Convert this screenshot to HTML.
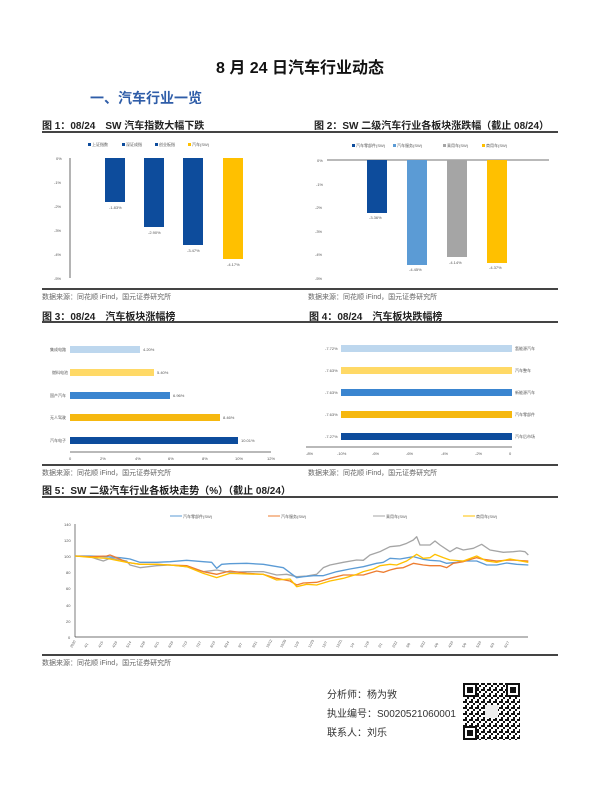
<!DOCTYPE html>
<html><head><meta charset="utf-8"><style>
body{margin:0;width:600px;height:800px;background:#fff;position:relative;font-family:"Liberation Sans","Noto Sans CJK SC",sans-serif;overflow:hidden}
.a{position:absolute;white-space:nowrap}
.h{font-size:10px;font-weight:bold;color:#222}
.src{font-size:7px;color:#666}
.ln{position:absolute;height:1.5px;background:#444}
svg{position:absolute;left:0;top:0}
</style></head><body>
<div class="a" style="left:0;width:600px;text-align:center;top:54px;font-size:16px;font-weight:bold;color:#111">8 月 24 日汽车行业动态</div>
<div class="a" style="left:90px;top:88px;font-size:14px;font-weight:bold;color:#2f5da8">一、汽车行业一览</div>

<div class="a h" style="left:42px;top:117px">图 1：08/24　SW 汽车指数大幅下跌</div>
<div class="ln" style="left:42px;top:131px;width:258px"></div>
<div class="ln" style="left:42px;top:288px;width:258px"></div>
<div class="a src" style="left:42px;top:292px">数据来源：同花顺 iFind，国元证券研究所</div>

<div class="a h" style="left:314px;top:117px">图 2：SW 二级汽车行业各板块涨跌幅（截止 08/24）</div>
<div class="ln" style="left:300px;top:131px;width:258px"></div>
<div class="ln" style="left:300px;top:288px;width:258px"></div>
<div class="a src" style="left:308px;top:292px">数据来源：同花顺 iFind，国元证券研究所</div>

<div class="a h" style="left:42px;top:308px">图 3：08/24　汽车板块涨幅榜</div>
<div class="ln" style="left:42px;top:321px;width:258px"></div>
<div class="ln" style="left:42px;top:464px;width:258px"></div>
<div class="a src" style="left:42px;top:468px">数据来源：同花顺 iFind，国元证券研究所</div>

<div class="a h" style="left:309px;top:308px">图 4：08/24　汽车板块跌幅榜</div>
<div class="ln" style="left:300px;top:321px;width:258px"></div>
<div class="ln" style="left:300px;top:464px;width:258px"></div>
<div class="a src" style="left:308px;top:468px">数据来源：同花顺 iFind，国元证券研究所</div>

<div class="a h" style="left:42px;top:482px">图 5：SW 二级汽车行业各板块走势（%）（截止 08/24）</div>
<div class="ln" style="left:42px;top:496px;width:516px"></div>
<div class="ln" style="left:42px;top:654px;width:516px"></div>
<div class="a src" style="left:42px;top:658px">数据来源：同花顺 iFind，国元证券研究所</div>

<svg width="600" height="800" font-family="Liberation Sans,Noto Sans CJK SC,sans-serif" font-size="4" fill="#555">
<!-- Fig1 -->
<g>
<rect x="88" y="143" width="3" height="3" fill="#0d4c9c"/><text x="92" y="146">上证指数</text>
<rect x="122" y="143" width="3" height="3" fill="#0d4c9c"/><text x="126" y="146">深证成指</text>
<rect x="155" y="143" width="3" height="3" fill="#0d4c9c"/><text x="159" y="146">创业板指</text>
<rect x="188" y="143" width="3" height="3" fill="#ffc000"/><text x="192" y="146">汽车(SW)</text>
<line x1="70" y1="158" x2="70" y2="278" stroke="#444" stroke-width="0.8"/>
<text x="56" y="160">0%</text><text x="54" y="184">-1%</text><text x="54" y="208">-2%</text><text x="54" y="232">-3%</text><text x="54" y="256">-4%</text><text x="54" y="280">-5%</text>
<rect x="105" y="158" width="20" height="44" fill="#0d4c9c"/>
<rect x="144" y="158" width="20" height="69" fill="#0d4c9c"/>
<rect x="183" y="158" width="20" height="87" fill="#0d4c9c"/>
<rect x="223" y="158" width="20" height="101" fill="#ffc000"/>
<text x="109" y="209">-1.83%</text><text x="148" y="234">-2.90%</text><text x="187" y="252">-3.47%</text><text x="227" y="266">-4.17%</text>
</g>
<!-- Fig2 -->
<g>
<rect x="352" y="144" width="3" height="3" fill="#0d4c9c"/><text x="356" y="147">汽车零部件(SW)</text>
<rect x="393" y="144" width="3" height="3" fill="#5b9bd5"/><text x="397" y="147">汽车服务(SW)</text>
<rect x="443" y="144" width="3" height="3" fill="#a5a5a5"/><text x="447" y="147">乘用车(SW)</text>
<rect x="482" y="144" width="3" height="3" fill="#ffc000"/><text x="486" y="147">商用车(SW)</text>
<line x1="327" y1="160" x2="549" y2="160" stroke="#444" stroke-width="0.8"/>
<text x="317" y="162">0%</text><text x="316" y="186">-1%</text><text x="315" y="209">-2%</text><text x="315" y="233">-3%</text><text x="315" y="256">-4%</text><text x="315" y="280">-5%</text>
<rect x="367" y="160" width="20" height="53" fill="#0d4c9c"/>
<rect x="407" y="160" width="20" height="105" fill="#5b9bd5"/>
<rect x="447" y="160" width="20" height="97" fill="#a5a5a5"/>
<rect x="487" y="160" width="20" height="103" fill="#ffc000"/>
<text x="369" y="219">-3.36%</text><text x="409" y="271">-4.45%</text><text x="449" y="264">-4.14%</text><text x="489" y="269">-4.37%</text>
</g>
<!-- Fig3 -->
<g>
<text x="50" y="351">集成电路</text><text x="52" y="374">燃料电池</text><text x="50" y="397">国产汽车</text><text x="50" y="419">无人驾驶</text><text x="50" y="442">汽车电子</text>
<rect x="70" y="346" width="70" height="7" fill="#bdd7ee"/>
<rect x="70" y="369" width="84" height="7" fill="#ffd966"/>
<rect x="70" y="392" width="100" height="7" fill="#3a85d0"/>
<rect x="70" y="414" width="150" height="7" fill="#f6b80f"/>
<rect x="70" y="437" width="168" height="7" fill="#0d4c9c"/>
<text x="143" y="351">4.20%</text><text x="157" y="374">5.40%</text><text x="173" y="397">6.96%</text><text x="223" y="419">8.46%</text><text x="241" y="442">10.01%</text>
<line x1="70" y1="452" x2="271" y2="452" stroke="#444" stroke-width="0.8"/>
<text x="69" y="460">0</text><text x="100" y="460">2%</text><text x="135" y="460">4%</text><text x="168" y="460">6%</text><text x="202" y="460">8%</text><text x="235" y="460">10%</text><text x="267" y="460">12%</text>
</g>
<!-- Fig4 -->
<g>
<text x="325" y="350">-7.72%</text><text x="325" y="372">-7.63%</text><text x="325" y="394">-7.63%</text><text x="325" y="416">-7.63%</text><text x="325" y="438">-7.27%</text>
<rect x="341" y="345" width="171" height="7" fill="#bdd7ee"/>
<rect x="341" y="367" width="171" height="7" fill="#ffd966"/>
<rect x="341" y="389" width="171" height="7" fill="#3a85d0"/>
<rect x="341" y="411" width="171" height="7" fill="#f6b80f"/>
<rect x="341" y="433" width="171" height="7" fill="#0d4c9c"/>
<text x="515" y="350">氢能源汽车</text><text x="515" y="372">汽车整车</text><text x="515" y="394">新能源汽车</text><text x="515" y="416">汽车零部件</text><text x="515" y="438">汽车后市场</text>
<line x1="306" y1="447" x2="512" y2="447" stroke="#444" stroke-width="0.8"/>
<text x="306" y="455">-8%</text><text x="337" y="455">-10%</text><text x="372" y="455">-6%</text><text x="406" y="455">-6%</text><text x="441" y="455">-4%</text><text x="475" y="455">-2%</text><text x="509" y="455">0</text>
</g>
<!-- Fig5 -->
<g>
<line x1="170" y1="516" x2="182" y2="516" stroke="#5b9bd5" stroke-width="1"/><text x="183" y="518">汽车零部件(SW)</text>
<line x1="268" y1="516" x2="280" y2="516" stroke="#ed7d31" stroke-width="1"/><text x="281" y="518">汽车服务(SW)</text>
<line x1="373" y1="516" x2="385" y2="516" stroke="#a5a5a5" stroke-width="1"/><text x="386" y="518">乘用车(SW)</text>
<line x1="463" y1="516" x2="475" y2="516" stroke="#ffc000" stroke-width="1"/><text x="476" y="518">商用车(SW)</text>
<line x1="75" y1="524" x2="75" y2="637" stroke="#444" stroke-width="0.7"/>
<line x1="75" y1="637" x2="528" y2="637" stroke="#444" stroke-width="0.7"/>
<text x="64" y="526">140</text><text x="64" y="542">120</text><text x="64" y="558">100</text><text x="66" y="574">80</text><text x="66" y="590">60</text><text x="66" y="607">40</text><text x="66" y="623">20</text><text x="68" y="639">0</text>
<g font-size="3.5">
<text transform="translate(72,648) rotate(-60)">2020</text><text transform="translate(86,648) rotate(-60)">4/1</text><text transform="translate(100,648) rotate(-60)">4/15</text><text transform="translate(114,648) rotate(-60)">4/29</text><text transform="translate(128,648) rotate(-60)">5/14</text><text transform="translate(142,648) rotate(-60)">5/28</text><text transform="translate(156,648) rotate(-60)">6/11</text><text transform="translate(170,648) rotate(-60)">6/29</text><text transform="translate(184,648) rotate(-60)">7/13</text><text transform="translate(198,648) rotate(-60)">7/27</text><text transform="translate(212,648) rotate(-60)">8/10</text><text transform="translate(226,648) rotate(-60)">8/24</text><text transform="translate(240,648) rotate(-60)">9/7</text><text transform="translate(254,648) rotate(-60)">9/21</text><text transform="translate(268,648) rotate(-60)">10/12</text><text transform="translate(282,648) rotate(-60)">10/26</text><text transform="translate(296,648) rotate(-60)">11/9</text><text transform="translate(310,648) rotate(-60)">11/23</text><text transform="translate(324,648) rotate(-60)">12/7</text><text transform="translate(338,648) rotate(-60)">12/21</text><text transform="translate(352,648) rotate(-60)">1/4</text><text transform="translate(366,648) rotate(-60)">1/18</text><text transform="translate(380,648) rotate(-60)">2/1</text><text transform="translate(394,648) rotate(-60)">2/22</text><text transform="translate(408,648) rotate(-60)">3/8</text><text transform="translate(422,648) rotate(-60)">3/22</text><text transform="translate(436,648) rotate(-60)">4/6</text><text transform="translate(450,648) rotate(-60)">4/20</text><text transform="translate(464,648) rotate(-60)">5/6</text><text transform="translate(478,648) rotate(-60)">5/20</text><text transform="translate(492,648) rotate(-60)">6/3</text><text transform="translate(506,648) rotate(-60)">6/17</text>
</g>
<g transform="translate(30,475) scale(0.33333)" fill="none" stroke-width="4" stroke-linejoin="round">
<polyline stroke="#a5a5a5" points="135,243 180,245 200,252 220,258 240,250 260,252 290,258 300,270 330,278 380,272 420,270 470,275 520,290 560,285 600,292 650,290 700,290 740,300 770,298 800,305 830,303 860,298 880,278 900,270 940,262 980,255 1000,256 1020,240 1050,230 1080,215 1110,212 1130,205 1150,195 1160,185 1170,210 1200,210 1215,198 1230,210 1260,230 1280,218 1300,225 1330,220 1355,208 1380,225 1420,232 1450,230 1470,228 1485,230 1495,240"/>
<polyline stroke="#5b9bd5" points="135,243 180,243 230,245 270,248 300,252 330,262 380,262 420,260 470,256 520,260 545,262 560,280 575,268 600,266 650,265 700,268 760,278 800,308 820,305 850,302 880,302 920,290 960,282 1000,275 1040,265 1060,262 1080,250 1110,252 1150,245 1180,253 1200,256 1230,258 1250,265 1280,262 1300,258 1340,258 1370,270 1400,270 1430,264 1460,268 1495,270"/>
<polyline stroke="#ed7d31" points="135,243 180,245 230,243 240,240 260,248 290,262 330,268 380,268 420,270 470,272 520,290 560,298 600,288 650,295 700,298 740,310 780,318 800,330 820,324 860,322 900,310 940,300 980,300 1000,300 1040,288 1060,292 1080,285 1100,280 1120,278 1150,265 1180,270 1200,272 1230,272 1250,278 1270,265 1300,260 1340,248 1360,253 1400,258 1440,255 1495,258"/>
<polyline stroke="#ffc000" points="135,243 180,247 230,250 290,262 330,268 380,268 420,270 470,275 520,295 560,308 600,295 650,297 700,298 740,315 780,312 800,335 830,328 860,330 900,318 940,310 980,298 1000,290 1030,282 1050,272 1080,268 1100,270 1130,258 1160,238 1180,250 1200,248 1215,238 1240,248 1260,255 1300,258 1340,243 1370,258 1400,262 1440,252 1495,262"/>
</g>
</g>
<!-- QR -->
<g transform="translate(463,683)">
<defs><pattern id="q" width="6" height="6" patternUnits="userSpaceOnUse"><rect width="6" height="6" fill="#fff"/><rect x="0" y="0" width="2" height="2" fill="#111"/><rect x="4" y="2" width="2" height="2" fill="#111"/><rect x="2" y="4" width="2" height="2" fill="#111"/><rect x="2" y="0" width="2" height="2" fill="#111"/></pattern></defs>
<rect width="57" height="57" fill="url(#q)"/>
<g fill="#fff" stroke="#111" stroke-width="2"><rect x="1" y="1" width="12" height="12"/><rect x="44" y="1" width="12" height="12"/><rect x="1" y="44" width="12" height="12"/></g>
<g fill="#111"><rect x="4" y="4" width="6" height="6"/><rect x="47" y="4" width="6" height="6"/><rect x="4" y="47" width="6" height="6"/></g>
<rect x="22" y="22" width="13" height="13" fill="#eee"/>
</g>
</svg>
<div class="a" style="left:327px;top:686px;font-size:10px;color:#333;line-height:19px">分析师：杨为敩<br>执业编号：S0020521060001<br>联系人：刘乐</div>
</body></html>
